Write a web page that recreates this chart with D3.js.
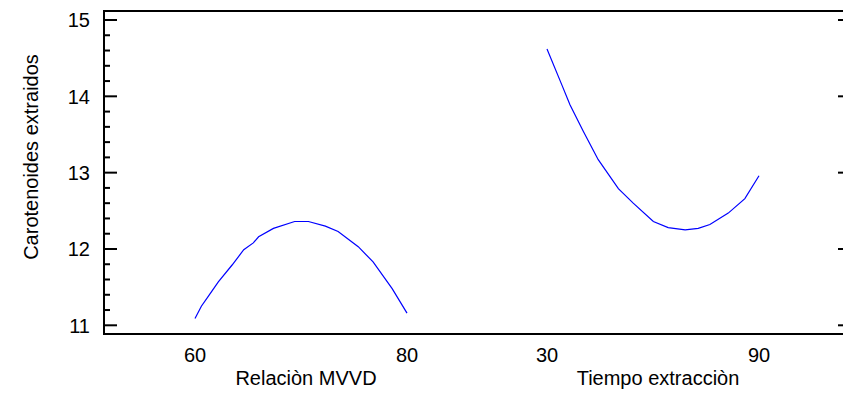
<!DOCTYPE html>
<html>
<head>
<meta charset="utf-8">
<script src="https://cdn.jsdelivr.net/npm/d3@7"></script>
<style>
  body { margin: 0; background: #fff; }
  text { font-family: "Liberation Sans", Arial, sans-serif; fill: #000; }
</style>
</head>
<body>
<div id="chart"></div>
<script>
// factor names and their low/high levels
var factors = ["Relaciòn MVVD", "Tiempo extracciòn"];
var factorLow = [60, 30];
var factorHigh = [80, 90];

// main effect curves
var mvvdX = [60, 60.6, 61.3, 62.2, 63.5, 64.6, 65.5, 66, 67.4, 69.4, 70.7, 72.3, 73.5, 75.4, 76.8, 78.6, 80];
var mvvdY = [11.09, 11.25, 11.39, 11.57, 11.79, 11.99, 12.08, 12.16, 12.27, 12.36, 12.36, 12.30, 12.23, 12.03, 11.83, 11.48, 11.16];
var tiempoX = [30, 34.2, 36.5, 40.3, 44.5, 50.2, 54.4, 60.1, 64.3, 69.1, 72.8, 76.1, 81.3, 86, 90];
var tiempoY = [14.62, 14.15, 13.89, 13.54, 13.17, 12.79, 12.60, 12.36, 12.28, 12.25, 12.27, 12.32, 12.47, 12.66, 12.96];

var yTicks = [11, 12, 13, 14, 15];
var yLabel = "Carotenoides extraidos";

var svgWidth = 843;
var svgHeight = 393;

var svg = d3.select("#chart")
  .append("svg")
  .attr("width", svgWidth)
  .attr("height", svgHeight);

var frame = { left: 104, right: 845, top: 11, bottom: 334 };

var yScale = d3.scaleLinear()
  .domain([11, 15])
  .range([325.3, 20]);

// one x scale per factor, side by side
var xScales = [
  d3.scaleLinear().domain([factorLow[0], factorHigh[0]]).range([195, 407]),
  d3.scaleLinear().domain([factorLow[1], factorHigh[1]]).range([547, 759])
];

// frame (right edge runs off the page)
svg.append("path")
  .attr("d", `M${frame.right},${frame.top}H${frame.left}V${frame.bottom}H${frame.right}`)
  .attr("fill", "none")
  .attr("stroke", "#000")
  .attr("stroke-width", 2);

// y ticks: majors and minors pointing in
var minor = d3.range(11, 15.001, 0.2);
svg.selectAll(".ytick")
  .data(minor)
  .enter()
  .append("line")
  .attr("x1", frame.left)
  .attr("x2", d => Math.abs(d - Math.round(d)) < 1e-6 ? frame.left + 13 : frame.left + 6)
  .attr("y1", d => yScale(d))
  .attr("y2", d => yScale(d))
  .attr("stroke", "#000")
  .attr("stroke-width", 2);

// right side major ticks
svg.selectAll(".rtick")
  .data(yTicks)
  .enter()
  .append("line")
  .attr("x1", 838)
  .attr("x2", 845)
  .attr("y1", d => yScale(d))
  .attr("y2", d => yScale(d))
  .attr("stroke", "#000")
  .attr("stroke-width", 2);

svg.selectAll(".ylab")
  .data(yTicks)
  .enter()
  .append("text")
  .attr("x", 90)
  .attr("y", d => yScale(d))
  .attr("dy", "0.36em")
  .attr("text-anchor", "end")
  .attr("font-size", "20px")
  .text(d => d);

svg.append("text")
  .attr("transform", "translate(38,157) rotate(-90)")
  .attr("text-anchor", "middle")
  .attr("font-size", "20px")
  .text(yLabel);

// x tick labels and factor names
factors.forEach(function(name, i) {
  var x = xScales[i];
  [factorLow[i], factorHigh[i]].forEach(function(v) {
    svg.append("text")
      .attr("x", x(v))
      .attr("y", 362)
      .attr("text-anchor", "middle")
      .attr("font-size", "20px")
      .text(v);
  });
  svg.append("text")
    .attr("x", (x.range()[0] + x.range()[1]) / 2 + 5)
    .attr("y", 385)
    .attr("text-anchor", "middle")
    .attr("font-size", "20px")
    .text(name);
});

// curves
var curves = [
  { xs: mvvdX, ys: mvvdY, scale: xScales[0] },
  { xs: tiempoX, ys: tiempoY, scale: xScales[1] }
];

curves.forEach(function(c) {
  var pts = c.xs.map((v, i) => [v, c.ys[i]]);
  var line = d3.line()
    .x(d => c.scale(d[0]))
    .y(d => yScale(d[1]));
  svg.append("path")
    .datum(pts)
    .attr("d", line)
    .attr("fill", "none")
    .attr("stroke", "#0000ff")
    .attr("stroke-width", 1.2);
});
</script>
</body>
</html>
